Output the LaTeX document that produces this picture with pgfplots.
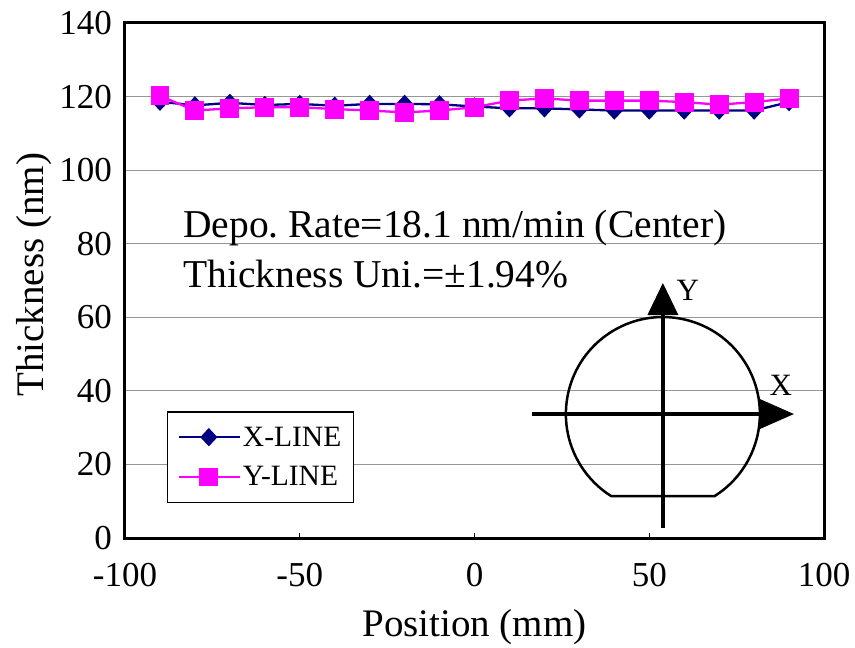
\documentclass[border=0pt]{standalone}
\usepackage{pgfplots}
\pgfplotsset{compat=1.18}
\usepackage{fontspec}
\setmainfont{Liberation Serif}
\frenchspacing

\definecolor{xnavy}{RGB}{0,0,128}
\definecolor{ymag}{RGB}{255,0,255}
\definecolor{gridgray}{RGB}{150,150,150}

\newcommand{\bigfont}{\fontsize{39}{45}\selectfont}
\newcommand{\notefont}{\fontsize{39.5}{45}\selectfont}
\newcommand{\tickfont}{\fontsize{35}{40}\selectfont}
\newcommand{\legfont}{\fontsize{29.5}{34}\selectfont}

\begin{document}
\begin{tikzpicture}
\begin{axis}[
  name=ax,
  scale only axis,
  width=699pt, height=515pt,
  xmin=-100, xmax=100,
  ymin=0, ymax=140,
  xtick={-100,-50,0,50,100},
  xticklabels={-100,-50,0,50,100},
  ytick={0,20,40,60,80,100,120,140},
  yticklabels={0,20,40,60,80,100,120,140},
  tick align=inside,
  xtick pos=bottom,
  ytick pos=left,
  major tick length=5pt,
  xtick style={black, line width=1pt},
  ytick style={draw=none},
  ymajorgrids,
  major grid style={gridgray, line width=1.2pt},
  axis line style={black, line width=3pt},
  xticklabel style={font=\tickfont, inner sep=0pt, anchor=north, yshift=-25pt},
  yticklabel style={font=\tickfont, inner sep=0pt, anchor=east, xshift=-13pt},
  xlabel={Position (mm)},
  ylabel={Thickness (nm)},
  every axis x label/.style={at={(axis description cs:0.5,-0.1922)}, anchor=base, font=\bigfont},
  every axis y label/.style={at={(axis description cs:-0.1173,0.511)}, rotate=90, anchor=base, font=\bigfont},
  legend image code/.code={
    \draw[mark repeat=2, mark phase=2, #1, line width=2.3pt]
      plot coordinates {(0pt,0pt) (30pt,0pt) (61pt,0pt)};
  },
  legend style={
    at={(axis description cs:0.060,0.2466)}, anchor=north west,
    draw=black, line width=1.5pt, fill=white,
    font=\legfont, inner xsep=10pt, inner ysep=13pt, row sep=15pt,
    legend cell align=left,
  },
  clip=false,
]
% scan along the X direction of the wafer
\addplot[xnavy, line width=2.3pt, mark=diamond*, mark size=7.5pt,
         mark options={solid, fill=xnavy, xscale=1.25}]
  coordinates {
    (-90,118.6) (-80,117.6) (-70,118.3) (-60,117.7) (-50,118.0)
    (-40,117.5) (-30,118.0) (-20,118.0) (-10,117.9) (0,117.3)
    (10,116.8) (20,116.8) (30,116.5) (40,116.2) (50,116.2)
    (60,116.2) (70,116.2) (80,116.2) (90,118.5)
  };
\addlegendentry{X-LINE}
% scan along the Y direction of the wafer
\addplot[ymag, line width=2.3pt, mark=square*, mark size=8.3pt,
         mark options={solid, fill=ymag}]
  coordinates {
    (-90,120.2) (-80,116.2) (-70,116.8) (-60,117.1) (-50,117.1)
    (-40,116.6) (-30,116.2) (-20,115.7) (-10,116.2) (0,117.1)
    (10,118.9) (20,119.5) (30,118.9) (40,118.9) (50,118.9)
    (60,118.5) (70,117.8) (80,118.5) (90,119.5)
  };
\addlegendentry{Y-LINE}

\node[anchor=base west, font=\notefont, inner sep=0pt] at (axis cs:-83.4,81.8)
  {Depo. Rate=18.1 nm/min (Center)};
\node[anchor=base west, font=\notefont, inner sep=0pt] at (axis cs:-83.4,68.0)
  {Thickness Uni.=±1.94\%};

% wafer sketch with the two scan directions
\coordinate (wc) at (axis cs:53.9,33.7);
\draw[black, line width=2.5pt]
  ([shift={(-57.7:97pt)}]wc) arc[start angle=-57.7, end angle=237.7, radius=97pt] -- cycle;
\draw[black, line width=3.5pt] ([xshift=-131pt]wc) -- ([xshift=97pt]wc);
\fill[black] ([shift={(97pt,15pt)}]wc) -- ([shift={(131pt,0pt)}]wc) -- ([shift={(97pt,-15pt)}]wc) -- cycle;
\draw[black, line width=3.5pt] ([yshift=-114pt]wc) -- ([yshift=99pt]wc);
\fill[black] ([shift={(-15.5pt,99pt)}]wc) -- ([shift={(0pt,131pt)}]wc) -- ([shift={(15.5pt,99pt)}]wc) -- cycle;
\node[font=\fontsize{31}{36}\selectfont, inner sep=0pt] at ([shift={(25pt,124pt)}]wc) {Y};
\node[font=\fontsize{31}{36}\selectfont, inner sep=0pt] at ([shift={(118pt,29pt)}]wc) {X};
\end{axis}
\pgfresetboundingbox
\path[use as bounding box] ([shift={(-125pt,-109pt)}]ax.south west) rectangle ([shift={(31pt,23pt)}]ax.north east);
\end{tikzpicture}
\end{document}
